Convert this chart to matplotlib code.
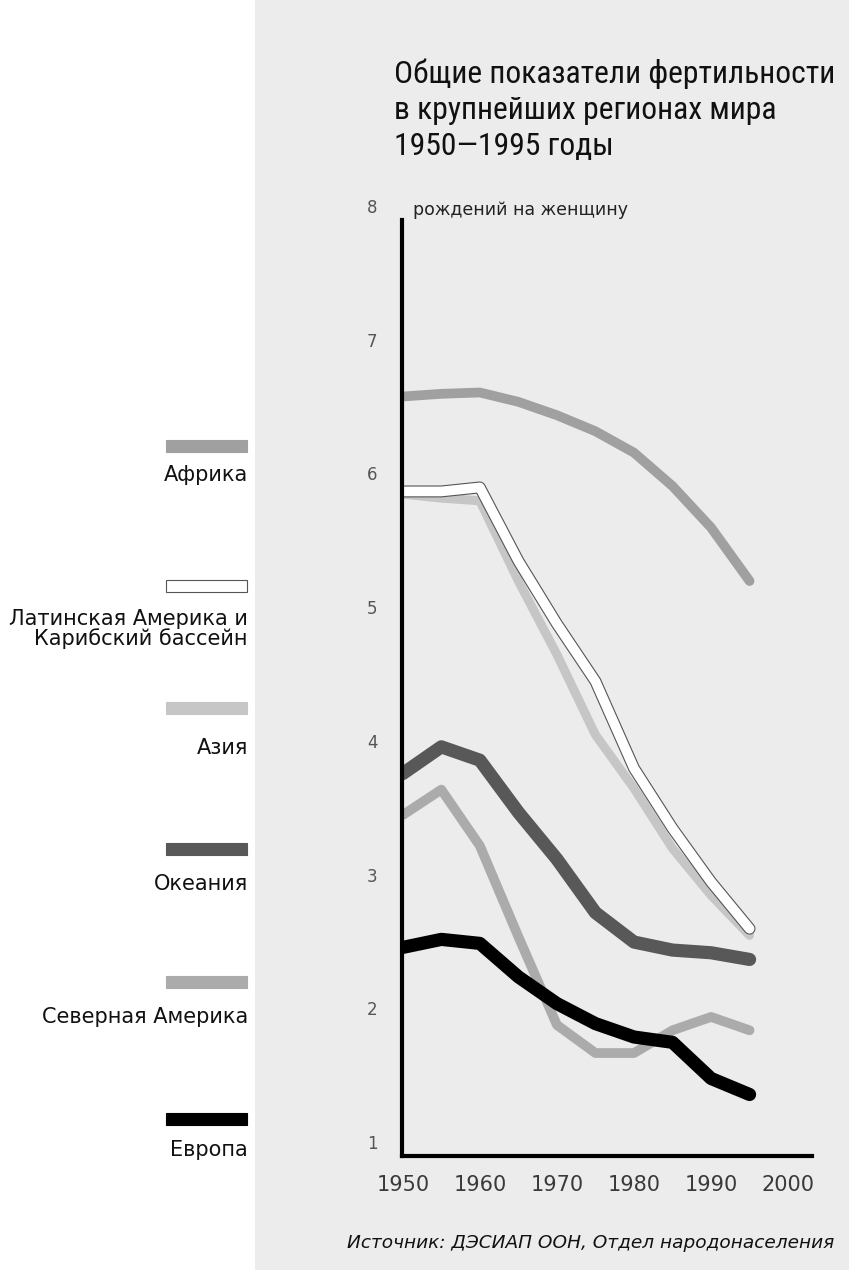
import matplotlib
matplotlib.use('Agg')
import matplotlib.pyplot as plt
import matplotlib.patheffects as pe
import matplotlib.transforms as mtransforms
from matplotlib import font_manager as fm
from matplotlib.patches import Rectangle

# data (births per woman)
years = [1950, 1955, 1960, 1965, 1970, 1975, 1980, 1985, 1990, 1995]
africa = [6.68, 6.70, 6.71, 6.64, 6.54, 6.42, 6.26, 6.01, 5.70, 5.30]
latin_america = [5.97, 5.97, 6.00, 5.45, 4.98, 4.55, 3.90, 3.45, 3.05, 2.70]
asia = [5.95, 5.92, 5.90, 5.30, 4.75, 4.15, 3.75, 3.30, 2.95, 2.65]
oceania = [3.86, 4.06, 3.96, 3.57, 3.22, 2.82, 2.60, 2.54, 2.52, 2.47]
north_america = [3.55, 3.74, 3.32, 2.64, 1.98, 1.77, 1.77, 1.94, 2.04, 1.94]
europe = [2.56, 2.62, 2.59, 2.34, 2.14, 1.99, 1.89, 1.85, 1.58, 1.46]

region_names = ['Африка', 'Латинская Америка и\nКарибский бассейн', 'Азия',
                'Океания', 'Северная Америка', 'Европа']
x_ticks = [1950, 1960, 1970, 1980, 1990, 2000]
y_ticks = [1, 2, 3, 4, 5, 6, 7, 8]

title_lines = ['Общие показатели фертильности', 'в крупнейших регионах мира',
               '1950—1995 годы']
unit_label = 'рождений на женщину'
source = 'Источник: ДЭСИАП ООН, Отдел народонаселения'

plt.rcParams['font.family'] = ['DejaVu Sans']

# the title is set in a narrow face in the original; use one if there is one
names = {f.name for f in fm.fontManager.ttflist}
title_kw = dict(family=['Liberation Sans', 'DejaVu Sans'], fontsize=20.5)
for cand in ['Roboto Condensed', 'Liberation Sans Narrow', 'Open Sans Condensed']:
    if cand in names:
        title_kw = dict(family=[cand, 'DejaVu Sans'], fontsize=22.8)
        break
else:
    p = fm.findfont(fm.FontProperties(family='DejaVu Sans', stretch='condensed'))
    if 'Condensed' in p:
        title_kw = dict(fontproperties=fm.FontProperties(fname=p, size=21.5))

W, H = 849, 1270
fig = plt.figure(figsize=(W / 100, H / 100), dpi=100)
fig.patch.set_facecolor('white')

# background layer in pixel coordinates (titles, legend)
bg = fig.add_axes([0, 0, 1, 1])
bg.set_xlim(0, W)
bg.set_ylim(H, 0)
bg.axis('off')
bg.add_patch(Rectangle((255, 0), W - 255, H, color='#ececec', lw=0, zorder=0))

ax = fig.add_axes([402 / W, 1 - 1156 / H, (812 - 402) / W, (1156 - 220) / H])
ax.patch.set_alpha(0)
ax.set_xlim(1949.9, 2003.1)
ax.set_ylim(1, 8)
for s in ['top', 'right']:
    ax.spines[s].set_visible(False)
for s in ['left', 'bottom']:
    ax.spines[s].set_linewidth(3)
    ax.spines[s].set_color('black')

# line styles: (values, colour, width)
series = [
    (africa, '#a0a0a0', 7),
    (asia, '#c6c6c6', 6.5),
    (latin_america, 'white', 7),
    (north_america, '#ababab', 7),
    (oceania, '#585858', 9.5),
    (europe, 'black', 9.5),
]
legend_colors = ['#a0a0a0', 'white', '#c6c6c6', '#585858', '#ababab', 'black']

for vals, col, lw in series:
    kw = {}
    if col == 'white':
        kw['path_effects'] = [pe.Stroke(linewidth=lw + 1.6, foreground='#555555'), pe.Normal()]
    ax.plot(years, vals, color=col, lw=lw, solid_capstyle='round',
            solid_joinstyle='round', **kw)

ax.set_xticks(x_ticks)
ax.tick_params(axis='x', length=0, pad=14, labelsize=15, labelcolor='#3a3a3a')
ax.set_yticks([])

ylab_trans = mtransforms.offset_copy(
    mtransforms.blended_transform_factory(ax.transAxes, ax.transData),
    fig=fig, y=12, units='dots')
for v in y_ticks:
    ax.text(-0.073, v, str(v), transform=ylab_trans, ha='center', va='center',
            fontsize=12, color='#555555')

bg.text(413, 215, unit_label, fontsize=12.5, color='#222222', va='baseline')

# title
for i, line in enumerate(title_lines):
    bg.text(394, 83 + i * 36, line, va='baseline', ha='left', color='#111111',
            **title_kw)

# legend column
swatch_y = [446, 586, 708, 849, 982, 1119]
label_y = [475, 629, 748, 884, 1017, 1150]
for name, col, sy, ly in zip(region_names, legend_colors, swatch_y, label_y):
    edge = '#555555' if col == 'white' else col
    bg.add_patch(Rectangle((166, sy - 6), 81, 12, facecolor=col, edgecolor=edge, lw=0.8))
    bg.text(248, ly, name, ha='right', va='center', fontsize=15, color='#111111',
            linespacing=1.0)

bg.text(834, 1243, source, ha='right', va='center', fontsize=13.3, style='italic',
        color='#111111')

fig.savefig('out.png', dpi=100)
